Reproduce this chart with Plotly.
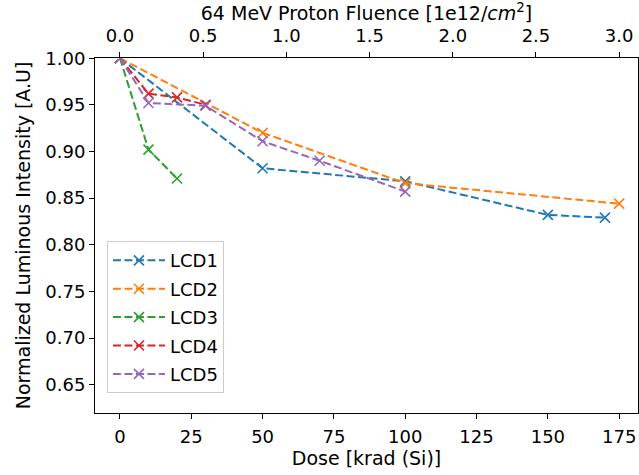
import plotly.graph_objects as go

# Data (dose in krad(Si), normalized luminous intensity)
lcd1_dose = [0, 50, 100, 150, 170]
lcd1_val = [1.0, 0.882, 0.868, 0.832, 0.829]
lcd2_dose = [0, 50, 100, 175]
lcd2_val = [1.0, 0.920, 0.866, 0.844]
lcd3_dose = [0, 10, 20]
lcd3_val = [1.0, 0.902, 0.871]
lcd4_dose = [0, 10, 20, 30]
lcd4_val = [1.0, 0.962, 0.958, 0.950]
lcd5_dose = [0, 10, 30, 50, 70, 100]
lcd5_val = [1.0, 0.952, 0.949, 0.911, 0.890, 0.857]

names = ["LCD1", "LCD2", "LCD3", "LCD4", "LCD5"]
colors = ["#1f77b4", "#ff7f0e", "#2ca02c", "#d62728", "#9467bd"]
series = [(lcd1_dose, lcd1_val), (lcd2_dose, lcd2_val), (lcd3_dose, lcd3_val),
          (lcd4_dose, lcd4_val), (lcd5_dose, lcd5_val)]

krad_per_fluence = 175.0 / 3.0
x_range = [-8.75, 181.6]
fluence_ticks = [0.0, 0.5, 1.0, 1.5, 2.0, 2.5, 3.0]
dose_ticks = [0, 25, 50, 75, 100, 125, 150, 175]
y_ticks = [0.65, 0.70, 0.75, 0.80, 0.85, 0.90, 0.95, 1.00]

fig = go.Figure()
for name, col, (xd, yd) in zip(names, colors, series):
    fig.add_trace(go.Scatter(
        x=xd, y=yd, name=name, mode="lines+markers", legendgroup=name,
        line=dict(color=col, width=2, dash="8px,3.5px"),
        marker=dict(symbol="x-thin", size=10, line=dict(color=col, width=1.6), color=col),
    ))

# invisible trace for the top axis
fig.add_trace(go.Scatter(x=[x_range[0] / krad_per_fluence, x_range[1] / krad_per_fluence],
                         y=[0.8, 0.8], xaxis="x2", mode="lines",
                         line=dict(width=0), showlegend=False, hoverinfo="skip"))

tick_font = dict(family="DejaVu Sans", size=18, color="black")
title_font = dict(family="DejaVu Sans", size=19, color="black")

fig.update_layout(
    width=639, height=475,
    margin=dict(l=95, r=1, t=58, b=62, autoexpand=False),
    paper_bgcolor="white", plot_bgcolor="white",
    font=dict(family="DejaVu Sans", size=18, color="black"),
    showlegend=True,
    legend=dict(x=0.022, y=0.056, xanchor="left", yanchor="bottom",
                bordercolor="#cccccc", borderwidth=1, bgcolor="white",
                font=dict(family="DejaVu Sans", size=18, color="black"),
                tracegroupgap=2, traceorder="grouped", itemwidth=52),
    xaxis=dict(range=x_range, tickvals=dose_ticks, ticks="outside", ticklen=5,
               tickcolor="black", showline=True, linecolor="black", linewidth=1,
               showgrid=False, zeroline=False, mirror=False, ticklabelstandoff=2,
               tickfont=tick_font,
               title=dict(text="Dose [krad (Si)]", standoff=4, font=title_font)),
    xaxis2=dict(range=[x_range[0] / krad_per_fluence, x_range[1] / krad_per_fluence],
                overlaying="x", side="top", tickvals=fluence_ticks,
                ticktext=[f"{v:.1f}" for v in fluence_ticks],
                ticks="outside", ticklen=5, tickcolor="black",
                showline=True, linecolor="black", linewidth=1,
                showgrid=False, zeroline=False, ticklabelstandoff=3,
                tickfont=tick_font,
                title=dict(text="64 MeV Proton Fluence [1e12/<i>cm</i><sup>2</sup>]", standoff=5,
                           font=title_font)),
    yaxis=dict(range=[0.6196, 1.0002], tickvals=y_ticks,
               ticktext=[f"{v:.2f}" for v in y_ticks],
               ticks="outside", ticklen=5, tickcolor="black",
               showline=True, linecolor="black", linewidth=1, mirror=True,
               showgrid=False, zeroline=False, tickfont=tick_font,
               title=dict(text="Normalized Luminous Intensity [A.U]", standoff=9, font=title_font)),
)

fig.write_html("out.html", config={"displayModeBar": False},
               post_script="document.body.style.margin='0';document.body.style.overflow='hidden';")
